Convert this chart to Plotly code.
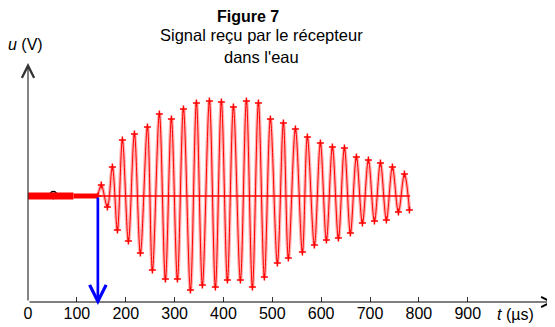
import plotly.graph_objects as go

# ---- data ----
# flat noisy part before the wave arrives (t in µs)
band_thick_t = [0, 93]
band_thin_t = [93, 143]
# zero baseline of the received signal
zero_t = [143, 782]
# arrival time marked by the blue arrow
t_arrival = 143
# successive extremes of the received signal (t in µs, u in V, arbitrary scale)
wave_t = [143, 150, 162.5, 172.7, 183, 193.2, 205.5, 217.8, 230, 244.4, 254.6,
          268.9, 281.2, 293.5, 305.8, 318.1, 332.4, 344.7, 356.9, 371.3, 383.5,
          395.8, 408.1, 420.4, 434.7, 447, 459.3, 471.6, 483.8, 496.1, 510.4,
          522.7, 532.9, 547.3, 561.6, 571.8, 586.1, 598.4, 610.7, 623, 635.3,
          647.6, 659.8, 672.1, 684.4, 696.7, 709, 721.3, 733.5, 745.8, 758.1,
          770.4, 780.6]
wave_u = [0, 0.11, -0.11, 0.29, -0.34, 0.56, -0.45, 0.62, -0.57, 0.69, -0.74,
          0.82, -0.83, 0.77, -0.83, 0.87, -0.94, 0.93, -0.89, 0.95, -0.91,
          0.94, -0.84, 0.89, -0.84, 0.95, -0.91, 0.93, -0.81, 0.77, -0.67,
          0.73, -0.62, 0.67, -0.56, 0.59, -0.49, 0.53, -0.44, 0.49, -0.42,
          0.48, -0.37, 0.39, -0.27, 0.36, -0.25, 0.33, -0.24, 0.29, -0.16,
          0.22, -0.14]
x_ticks = [0, 100, 200, 300, 400, 500, 600, 700, 800, 900]

X_MAX = 1076.5
Y_MIN, Y_MAX = -1.06, 1.33
FONT = "Liberation Sans, Arial, sans-serif"
RED = "#ff0000"

fig = go.Figure()
fig.add_trace(go.Scatter(x=band_thick_t, y=[0, 0], mode="lines",
                         line=dict(color=RED, width=7), hoverinfo="skip"))
fig.add_trace(go.Scatter(x=band_thin_t, y=[0, 0], mode="lines",
                         line=dict(color=RED, width=5), hoverinfo="skip"))
fig.add_trace(go.Scatter(x=zero_t, y=[0, 0], mode="lines",
                         line=dict(color=RED, width=1.5), hoverinfo="skip"))
fig.add_trace(go.Scatter(x=wave_t, y=wave_u, mode="lines",
                         line=dict(color="rgba(255,0,0,0.3)", width=3.5, shape="spline"),
                         hoverinfo="skip"))
fig.add_trace(go.Scatter(x=wave_t, y=wave_u, mode="lines+markers",
                         line=dict(color=RED, width=1, shape="spline"),
                         marker=dict(symbol="cross-thin", size=5,
                                     line=dict(color=RED, width=1.5)),
                         hoverinfo="skip"))

ann = []
# axes drawn as arrows
ann.append(dict(x=X_MAX - 1, y=Y_MIN, ax=0, ay=Y_MIN, xref="x", yref="y",
                axref="x", ayref="y", text="", showarrow=True, arrowhead=5,
                arrowsize=2, arrowwidth=1, arrowcolor="black"))
ann.append(dict(x=0, y=Y_MAX, ax=0, ay=Y_MIN, xref="x", yref="y",
                axref="x", ayref="y", text="", showarrow=True, arrowhead=5,
                arrowsize=2, arrowwidth=1.2, arrowcolor="#333333"))
# blue arrow at arrival time
ann.append(dict(x=t_arrival, y=Y_MIN - 0.03, ax=t_arrival, ay=0, xref="x", yref="y",
                axref="x", ayref="y", text="", showarrow=True, arrowhead=5,
                arrowsize=1.2, arrowwidth=2.7, arrowcolor="#0000ff"))
# texts (positions given in screen pixels of the 555x327 page)
def px(x):
    return (x - 28) / 526.0
def py(y):
    return (302 - y) / 239.0
ann.append(dict(x=px(248), y=py(16.5), xref="paper", yref="paper", showarrow=False,
                text="<b>Figure 7</b>", font=dict(family=FONT, size=16, color="black"),
                xanchor="center", yanchor="middle", borderpad=0))
ann.append(dict(x=px(262), y=py(35.5), xref="paper", yref="paper", showarrow=False,
                text="Signal reçu par le récepteur", font=dict(family=FONT, size=16.5, color="black"),
                xanchor="center", yanchor="middle", borderpad=0))
ann.append(dict(x=px(262), y=py(57), xref="paper", yref="paper", showarrow=False,
                text="dans l'eau", font=dict(family=FONT, size=16.5, color="black"),
                xanchor="center", yanchor="middle", borderpad=0))
ann.append(dict(x=px(25), y=py(45), xref="paper", yref="paper", showarrow=False,
                text="<i>u</i> (V)", font=dict(family=FONT, size=16, color="black"),
                xanchor="center", yanchor="middle"))
ann.append(dict(x=px(515), y=py(314), xref="paper", yref="paper", showarrow=False,
                text="<i>t</i> (µs)", font=dict(family=FONT, size=16, color="black"),
                xanchor="center", yanchor="middle"))

# page body has an 8px margin: figure is 8px smaller and everything is offset by 8px
fig.update_layout(
    width=547, height=319,
    margin=dict(l=20, r=1, t=55, b=25),
    paper_bgcolor="white", plot_bgcolor="white",
    showlegend=False,
    annotations=ann,
    shapes=[dict(type="circle", xref="x", yref="y", x0=44.8, x1=59.1,
                 y0=-0.025, y1=0.045, layer="below",
                 line=dict(color="black", width=1.5))],
    xaxis=dict(range=[0, X_MAX], showgrid=False, zeroline=False, showline=False,
               tickmode="array", tickvals=x_ticks, ticktext=[str(v) for v in x_ticks],
               ticks="inside", ticklen=5, tickwidth=1, tickcolor="#333333",
               tickfont=dict(family=FONT, size=16, color="black"), fixedrange=True,
               automargin=False),
    yaxis=dict(range=[Y_MIN, Y_MAX], showgrid=False, zeroline=False, showline=False,
               showticklabels=False, ticks="", fixedrange=True, automargin=False),
)

fig.write_html("out.html", config={"displayModeBar": False})
